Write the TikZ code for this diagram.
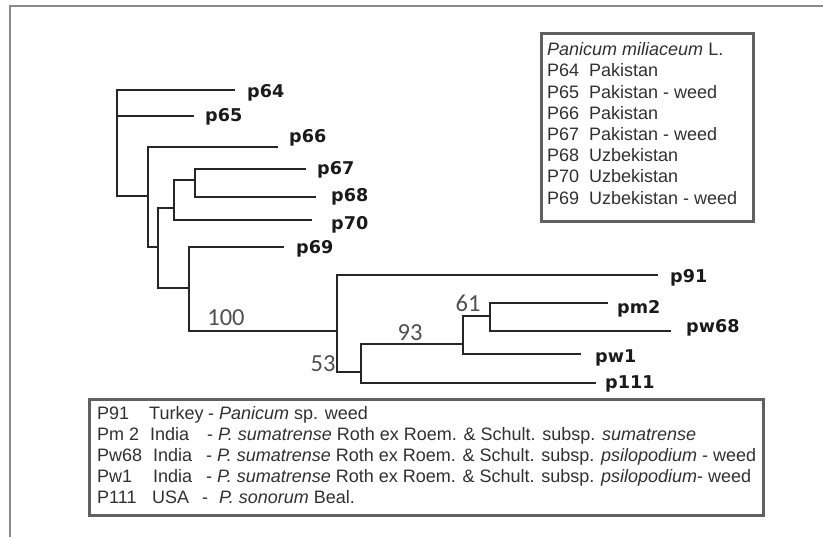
\documentclass[tikz,border=0pt]{standalone}
\usepackage{fontspec}
\setmainfont{Liberation Sans}
\newfontfamily\leaffont{DejaVu Sans}
\newfontfamily\bootfont{Carlito}
\definecolor{treec}{HTML}{262626}
\definecolor{leafc}{HTML}{1A1A1A}
\definecolor{bootc}{HTML}{505050}
\definecolor{legc}{HTML}{303030}
\definecolor{boxc}{HTML}{606060}
\definecolor{framec}{HTML}{8A8A8A}
\begin{document}
\begin{tikzpicture}[x=1pt,y=-1pt,
  br/.style={line width=2.9pt, draw=treec, line cap=rect},
  leaf/.style={anchor=west, inner sep=0pt, font=\leaffont\bfseries\fontsize{17.6}{17.6}\selectfont, text=leafc},
  boot/.style={inner sep=0pt, font=\bootfont\fontsize{24.5}{24.5}\selectfont, text=bootc},
  lg/.style={anchor=base west, inner sep=0pt, font=\fontsize{18}{18}\selectfont, text=legc},
  lbox/.style={draw=boxc, line width=2.6pt, anchor=north west, inner sep=0pt},
  frameline/.style={draw=framec, line width=1.6pt}]

\useasboundingbox (0,0) rectangle (823,537);

% outer frame
\coordinate (fbl) at (10,537);
\coordinate (ftl) at (10,6);
\coordinate (ftr) at (823,6);
\draw[frameline] (fbl) -- (ftl) -- (ftr);

% internal nodes
\coordinate (R) at (117,196);
\coordinate (A) at (148,196);
\coordinate (B) at (158,247);
\coordinate (C) at (174,208);
\coordinate (D) at (195,180);
\coordinate (E) at (189,288);
\coordinate (F) at (337,331);
\coordinate (G) at (361,372);
\coordinate (H) at (463,344);
\coordinate (I) at (490,316);
% leaf tips
\coordinate (t64) at (234,90);
\coordinate (t65) at (193,116);
\coordinate (t66) at (277,147);
\coordinate (t67) at (305,169);
\coordinate (t68) at (315,197);
\coordinate (t70) at (311,220);
\coordinate (t69) at (283,247);
\coordinate (t91) at (657,275);
\coordinate (tm2) at (607,303);
\coordinate (tw68) at (670,331);
\coordinate (tw1) at (580,354);
\coordinate (t111) at (595,383);

% verticals
\draw[br] (R |- t64) -- (R |- A);
\draw[br] (A |- t66) -- (A |- B);
\draw[br] (B |- C) -- (B |- E);
\draw[br] (C |- D) -- (C |- t70);
\draw[br] (D |- t67) -- (D |- t68);
\draw[br] (E |- t69) -- (E |- F);
\draw[br] (F |- t91) -- (F |- G);
\draw[br] (G |- H) -- (G |- t111);
\draw[br] (H |- I) -- (H |- tw1);
\draw[br] (I |- tm2) -- (I |- tw68);
% horizontals
\draw[br] (R |- t64) -- (t64);
\draw[br] (R |- t65) -- (t65);
\draw[br] (R) -- (A);
\draw[br] (A |- t66) -- (t66);
\draw[br] (A |- B) -- (B);
\draw[br] (B |- C) -- (C);
\draw[br] (B |- E) -- (E);
\draw[br] (C |- D) -- (D);
\draw[br] (C |- t70) -- (t70);
\draw[br] (D |- t67) -- (t67);
\draw[br] (D |- t68) -- (t68);
\draw[br] (E |- t69) -- (t69);
\draw[br] (E |- F) -- (F);
\draw[br] (F |- t91) -- (t91);
\draw[br] (F |- G) -- (G);
\draw[br] (G |- H) -- (H);
\draw[br] (G |- t111) -- (t111);
\draw[br] (H |- I) -- (I);
\draw[br] (H |- tw1) -- (tw1);
\draw[br] (I |- tm2) -- (tm2);
\draw[br] (I |- tw68) -- (tw68);

% leaf labels
\node[leaf] (p64) at (247,93) {p64};
\node[leaf] (p65) at (205,117) {p65};
\node[leaf] (p66) at (289,138) {p66};
\node[leaf] (p67) at (317,170) {p67};
\node[leaf] (p68) at (331,197) {p68};
\node[leaf] (p70) at (331,225) {p70};
\node[leaf] (p69) at (296,249) {p69};
\node[leaf] (p91) at (670,278) {p91};
\node[leaf] (pm2) at (617,309) {pm2};
\node[leaf] (pw68) at (686,328) {pw68};
\node[leaf] (pw1) at (595,358) {pw1};
\node[leaf] (p111) at (605,384) {p111};

% bootstrap values
\node[boot] (b100) at (226,318) {100};
\node[boot] (b53) at (323,364) {53};
\node[boot] (b93) at (410,333) {93};
\node[boot] (b61) at (468,303) {61};

% legend box 1
\node[lbox, minimum width=212pt, minimum height=188pt] (leg1) at (540,32) {};
\node[lg] (l1a) at (547,55.8) {\textit{Panicum miliaceum} L.};
\node[lg] (l1b) at (547,77.0) {P64};
\node[lg] (l1bb) at (589,77.0) {Pakistan};
\node[lg] (l1c) at (547,98.2) {P65};
\node[lg] (l1cc) at (589,98.2) {Pakistan - weed};
\node[lg] (l1d) at (547,119.4) {P66};
\node[lg] (l1dd) at (589,119.4) {Pakistan};
\node[lg] (l1e) at (547,140.6) {P67};
\node[lg] (l1ee) at (589,140.6) {Pakistan - weed};
\node[lg] (l1f) at (547,161.8) {P68};
\node[lg] (l1ff) at (589,161.8) {Uzbekistan};
\node[lg] (l1g) at (547,183.0) {P70};
\node[lg] (l1gg) at (589,183.0) {Uzbekistan};
\node[lg] (l1h) at (547,204.2) {P69};
\node[lg] (l1hh) at (589,204.2) {Uzbekistan - weed};

% legend box 2
\node[lbox, minimum width=674pt, minimum height=116pt] (leg2) at (88,398) {};
\node[lg] (l2a) at (97,419.8) {P91};
\node[lg] (l2aa) at (149,419.8) {Turkey};
\node[lg] (l2ab) at (208,419.8) {- \textit{Panicum} sp. weed};
\node[lg] (l2b) at (97,440.8) {Pm 2};
\node[lg] (l2bb) at (150,440.8) {India};
\node[lg] (l2bc) at (207,440.8) {- \textit{P. sumatrense} Roth ex Roem. \& Schult. subsp. \textit{sumatrense}};
\node[lg] (l2c) at (97,461.8) {Pw68};
\node[lg] (l2cc) at (153,461.8) {India};
\node[lg] (l2cd) at (206,461.8) {- \textit{P. sumatrense} Roth ex Roem. \& Schult. subsp. \textit{psilopodium} - weed};
\node[lg] (l2d) at (97,482.8) {Pw1};
\node[lg] (l2dd) at (153,482.8) {India};
\node[lg] (l2de) at (206,482.8) {- \textit{P. sumatrense} Roth ex Roem. \& Schult. subsp. \textit{psilopodium}- weed};
\node[lg] (l2e) at (97,503.8) {P111};
\node[lg] (l2ee) at (152,503.8) {USA};
\node[lg] (l2ef) at (202,503.8) {-\hspace{11pt}\textit{P. sonorum} Beal.};
\end{tikzpicture}
\end{document}
